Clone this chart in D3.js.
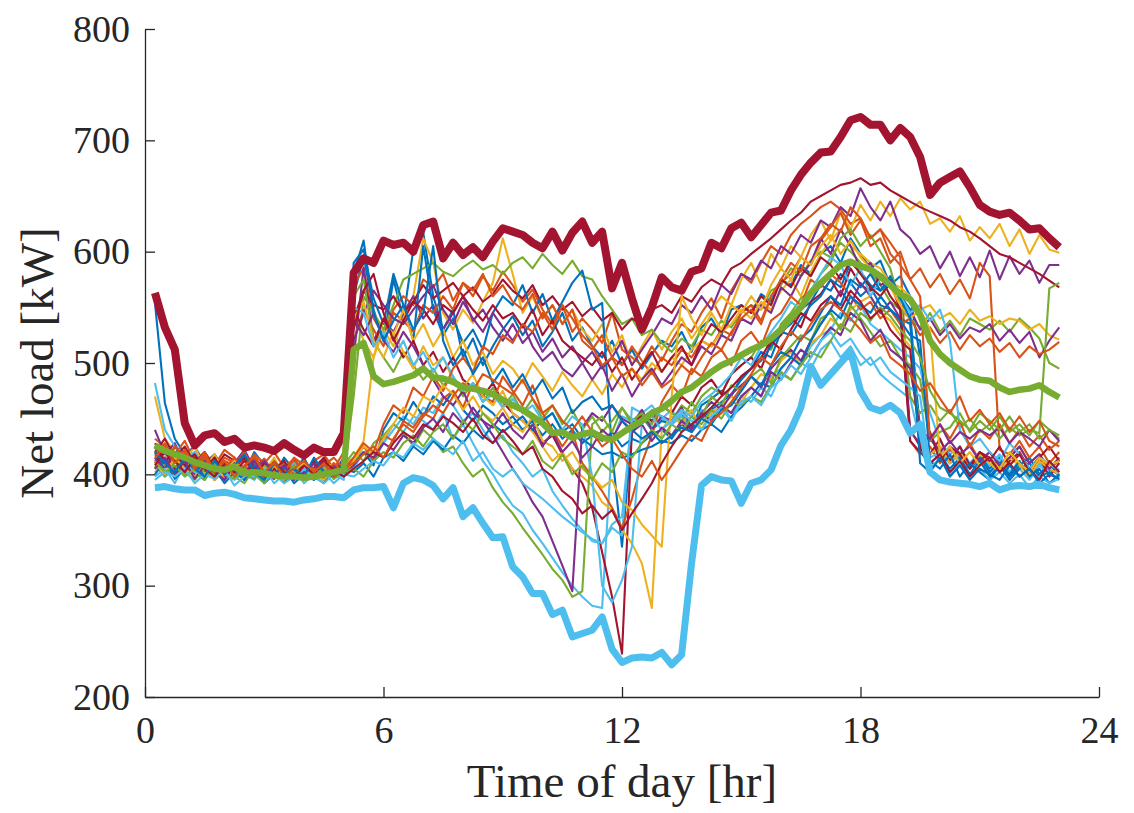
<!DOCTYPE html>
<html>
<head>
<meta charset="utf-8">
<script src="https://cdn.jsdelivr.net/npm/d3@7"></script>
<style>
  html, body { margin: 0; padding: 0; background: #fff; }
  svg { display: block; }
  .tick text { font-family: "Liberation Serif", "Times New Roman", serif; }
</style>
</head>
<body>
<svg id="chart" width="1134" height="813"></svg>
<script>
// Net load profiles sampled every 15 minutes, 00:15 .. 23:00 (92 samples)
const hours = d3.range(1, 93).map(i => i / 4);

// Individual daily profiles [kW]
const days = [
  [554,464,432,418,425,410,418,405,414,402,420,408,399,415,404,411,396,408,401,415,
   560,596,548,520,575,540,602,617, 560,530,548,505,522,498,515,530, 542,525,538,515,528,545,520,532,
   515,505,520,498,512,495,508,520, 515,528,510,532,540,525,548,552, 545,562,555,575,570,588,580,598,
   605,590,612,598,585,592,570,578, 560,505,432,420,412,425,408,418, 405,415,402,410,398,412,404,400],
  [432,425,418,430,412,420,408,422,415,405,418,410,420,406,414,402,412,418,405,420,
   570,585,540,525,548,560,552,575, 568,580,556,572,560,578,565,582, 570,555,566,548,535,552,528,540,
   530,518,545,512,505,498,515,502, 520,535,528,545,558,540,565,580, 572,590,605,598,615,625,632,640,
   645,638,625,630,612,620,608,595, 430,418,425,410,422,415,428,412, 420,408,415,425,410,418,405,412],
  [470,432,420,412,425,405,418,400,412,396,408,402,415,398,410,395,405,412,398,410,
   545,520,505,530,515,540,560,612, 590,545,530,548,536,555,572,612, 580,545,560,540,552,535,548,530,
   520,535,510,525,498,515,530,512, 528,540,522,535,548,560,552,575, 590,570,598,585,605,595,615,628,
   610,635,620,642,628,645,632,648, 638,645,625,630,618,632,610,622, 612,625,605,620,598,615,602,599],
  [440,418,428,408,420,402,415,398,410,422,405,414,400,412,395,408,402,415,398,412,
   505,586,520,538,528,545,560,540, 552,530,545,560,538,548,532,520, 535,518,528,510,522,505,515,500,
   510,495,505,520,498,512,525,540, 535,552,545,560,548,570,562,580, 575,592,585,605,598,615,608,628,
   622,640,632,657,640,628,645,620, 612,598,605,585,600,578,595,577, 601,575,596,580,592,572,588,588],
  [425,410,420,405,415,398,412,402,408,395,410,400,404,392,406,398,402,395,408,400,
   470,560,545,530,552,575,580,585, 590,582,578,586,592,584,588,580, 590,595,585,598,588,580,592,578,
   575,560,548,535,540,525,530,518, 510,522,515,530,525,538,532,545, 552,548,565,570,585,578,592,600,
   595,608,600,590,582,570,555,548, 540,532,545,528,538,525,540,535, 530,538,528,540,532,522,500,495],
  [482,440,425,415,420,405,412,398,408,400,395,410,402,396,405,392,400,408,396,402,
   410,425,418,430,445,438,452,448, 440,455,432,445,428,412,400,385, 372,365,350,338,325,312,300,290,
   282,280,430,452,448,455,442,450, 445,452,440,458,450,462,455,470, 465,478,470,490,485,500,495,512,
   520,505,515,498,505,490,482,475, 468,430,415,420,410,418,405,412, 400,410,398,405,395,408,400,396],
  [420,432,415,425,410,420,405,418,412,400,415,405,410,398,412,402,406,415,400,410,
   540,565,552,548,560,545,555,570, 558,565,572,560,568,555,562,575, 565,558,570,552,560,548,555,542,
   550,538,545,530,540,535,548,552, 545,560,555,568,575,570,585,590, 598,605,612,620,628,635,645,650,
   655,660,662,666,660,662,655,650, 645,640,636,632,628,622,618,612, 605,598,595,590,585,580,574,568],
  [418,408,425,412,402,415,398,410,405,418,400,412,396,408,402,415,398,410,405,412,
   590,602,558,535,580,552,520,605, 548,525,540,518,530,512,545,560, 552,570,545,562,538,555,572,583,
   548,554,420,335,437,452,440,448, 445,455,442,462,468,475,470,488, 495,510,505,528,535,548,555,570,
   565,580,572,560,568,552,548,540, 535,440,418,425,410,420,405,415, 402,412,398,408,415,400,410,398],
  [410,422,405,418,400,412,398,405,415,402,410,396,408,400,412,405,398,410,402,408,
   520,548,530,515,545,538,528,552, 545,560,548,572,565,580,560,570, 555,548,562,540,552,535,548,520,
   512,525,505,498,515,502,490,505, 498,512,505,520,515,530,525,545, 552,538,560,572,580,595,588,610,
   622,635,615,628,605,612,590,600, 575,585,568,580,562,575,558,590, 578,422,418,430,415,425,410,420],
  [405,415,400,412,398,408,395,405,410,398,406,394,402,410,398,404,396,405,400,408,
   415,430,505,540,525,548,520,535, 515,530,505,520,498,510,490,502, 495,482,500,488,475,492,480,470,
   485,472,490,478,495,485,500,492, 505,498,512,520,515,528,535,548, 540,555,548,565,575,560,582,598,
   610,620,605,598,590,585,572,568, 560,548,552,540,545,535,548,538, 542,535,540,538,530,535,525,521],
  [428,412,420,405,415,400,410,398,405,395,412,400,408,394,402,398,410,396,404,412,
   520,545,565,552,540,535,548,560, 570,548,535,555,540,528,545,532, 520,535,515,502,510,495,488,500,
   485,498,475,490,470,485,495,480, 492,505,498,515,508,525,520,540, 535,552,545,568,560,578,590,612,
   598,620,605,585,590,570,575,560, 548,530,540,525,535,522,532,528, 535,520,530,518,528,505,520,532],
  [415,405,418,400,410,398,412,395,405,400,396,408,402,395,405,400,398,410,396,405,
   560,575,520,505,492,510,498,485, 495,480,488,470,482,465,478,460, 472,455,468,450,462,445,458,440,
   452,438,448,460,445,455,440,452, 448,462,455,470,478,472,490,498, 505,520,512,535,545,558,565,580,
   590,612,620,605,615,600,585,552, 470,455,462,448,458,442,450,438, 445,432,442,435,440,437,567,572],
  [410,398,405,415,400,412,396,405,398,408,402,395,406,398,410,400,395,405,398,402,
   405,420,412,428,440,452,445,460, 455,470,462,448,455,440,428,435, 420,410,398,405,385,372,360,350,
   340,338,352,345,460,455,462,450, 458,446,452,440,455,462,450,470, 478,470,488,495,505,498,515,525,
   530,545,538,552,535,528,520,512, 505,495,455,430,418,425,410,420, 408,418,402,412,398,410,400,405],
  [412,420,405,415,400,410,395,408,402,415,398,410,405,396,408,400,412,398,405,410,
   548,530,515,540,522,505,520,498, 510,492,505,485,478,470,482,465, 455,448,440,428,435,418,405,392,
   370,330,290,239,440,455,448,462, 455,470,462,478,485,472,490,498, 505,495,518,525,540,532,555,562,
   575,560,585,570,565,578,560,548, 440,425,418,432,412,425,408,420, 415,402,412,420,405,415,398,410],
  [405,415,398,410,402,395,408,400,412,398,405,392,400,410,396,405,398,392,405,400,
   412,420,408,440,455,448,465,452, 470,462,475,458,448,462,455,445, 452,440,448,435,445,432,440,428,
   435,430,438,425,432,428,436,440, 432,445,438,450,458,465,472,485, 495,502,515,528,525,540,552,560,
   575,568,590,582,570,565,578,560, 548,420,410,418,405,415,400,412, 398,408,395,405,410,398,402,395],
  [420,410,425,415,405,418,400,412,408,420,402,414,398,410,405,412,400,408,415,405,
   415,425,412,435,430,448,442,455, 450,468,475,460,482,470,465,488, 475,462,480,455,440,425,438,410,
   398,385,370,352,378,410,435,465, 480,470,495,488,505,512,498,520, 528,515,538,545,560,552,575,568,
   580,572,560,548,555,540,548,535, 540,525,532,518,528,512,525,515, 522,510,518,505,515,508,512,519],
  [402,410,398,405,415,400,408,396,404,412,398,406,400,395,408,402,396,404,410,398,
   540,555,520,505,528,510,495,515, 498,505,485,478,490,470,462,475, 455,448,438,425,412,420,405,398,
   390,375,368,350,338,320,280,440, 452,445,458,440,455,462,470,465, 478,490,485,502,510,498,518,525,
   540,532,548,555,560,545,538,525, 515,432,418,425,410,420,405,418, 410,402,415,408,398,412,405,400],
  [415,405,420,408,398,412,402,395,408,400,414,402,396,405,398,410,402,395,408,398,
   538,525,545,520,510,528,515,498, 485,470,462,475,455,448,435,420, 405,392,375,362,340,318,295,442,
   455,448,462,450,445,458,440,452, 448,460,442,455,465,458,472,480, 488,478,495,505,512,502,520,535,
   548,565,552,572,560,545,555,540, 438,428,435,420,430,418,425,412, 420,408,415,425,410,418,405,415],
  [408,398,412,402,395,405,400,410,398,392,405,400,410,398,402,395,405,398,402,408,
   420,412,428,435,445,438,425,440, 432,420,425,410,398,405,388,375, 365,352,340,328,315,305,290,295,
   445,452,438,460,448,455,445,462, 455,448,465,452,470,462,480,475, 488,495,482,505,515,525,520,540,
   545,530,552,540,528,515,520,505, 498,485,430,438,442,455,438,448, 440,452,438,445,435,448,440,432],
  [398,405,392,410,402,396,408,400,395,402,398,405,392,400,396,404,398,392,400,395,
   550,545,515,528,505,520,498,510, 492,505,488,475,482,465,472,460, 468,455,462,448,455,440,452,445,
   398,300,285,305,335,446,452,440, 448,458,452,465,472,480,490,505, 498,515,528,540,555,548,565,580,
   595,588,570,585,560,575,568,560, 545,552,538,548,520,440,425,432, 420,412,428,418,405,415,410,402],
  [425,412,420,408,418,405,415,400,410,402,408,396,405,412,398,408,402,410,398,405,
   530,565,580,545,520,538,555,548, 535,552,545,560,548,538,552,540, 545,532,548,525,538,520,512,505,
   498,510,492,505,485,498,510,492, 505,515,498,520,535,528,540,552, 545,560,552,575,568,585,578,595,
   588,575,592,580,568,560,572,548, 430,420,438,412,425,418,405,420, 412,425,408,418,402,415,425,412],
  [400,412,396,405,410,398,405,392,402,395,408,400,398,405,392,400,395,402,398,405,
   402,410,398,415,420,412,425,418, 430,422,435,428,440,432,445,438, 445,452,440,448,455,438,445,432,
   425,418,420,415,418,422,425,430, 428,435,430,440,445,438,452,460, 470,482,478,495,505,498,520,535,
   548,540,560,552,545,560,548,538, 525,520,412,405,418,398,410,402, 395,408,400,412,398,405,392,400],
  [418,428,412,422,408,420,402,415,410,405,418,400,412,402,415,408,405,398,410,402,
   415,428,420,445,462,455,478,470, 488,475,495,505,492,515,508,525, 518,535,528,545,530,552,540,525,
   515,498,505,488,495,480,492,478, 485,498,490,505,518,512,528,540, 548,535,560,575,590,582,605,612,
   625,618,640,630,612,620,598,588, 575,560,430,445,432,448,425,440, 432,445,428,440,425,435,422,430],
  [410,400,415,405,398,408,395,402,412,400,405,396,408,398,404,410,400,395,405,398,
   412,425,418,432,445,460,452,470, 465,480,472,458,470,455,448,460, 445,438,452,430,425,412,420,405,
   398,388,395,375,368,355,345,335, 470,560,540,525,545,530,552,545, 560,548,570,585,575,595,588,605,
   615,598,610,595,585,575,568,552, 540,548,530,415,425,410,420,408, 415,405,420,410,402,415,408,412],
  [405,415,400,412,396,408,402,395,410,398,405,412,400,408,395,402,410,398,405,400,
   408,420,415,428,422,435,428,442, 450,438,455,445,460,448,442,455, 440,432,445,425,438,420,430,415,
   425,440,432,448,438,445,430,442, 435,448,440,455,448,462,455,470, 478,470,492,485,500,512,505,520,
   532,525,545,538,520,530,512,505, 495,440,432,445,428,438,432,440, 435,442,428,438,432,425,440,430],
  [412,402,408,398,405,395,410,400,396,405,400,392,402,398,408,395,400,405,396,402,
   405,398,412,420,415,428,435,425, 438,445,432,448,440,455,445,432, 425,418,430,412,405,418,400,408,
   395,410,402,420,415,428,440,432, 445,438,452,445,458,450,465,462, 470,465,480,492,485,498,510,505,
   520,535,528,545,538,550,542,530, 520,505,475,460,455,448,440,455, 448,440,452,438,445,432,440,435],
  [395,402,398,405,392,400,396,404,390,398,402,395,400,392,398,405,396,402,392,400,
   398,405,412,408,420,415,428,422, 432,425,418,430,412,420,405,398, 405,392,385,378,370,362,355,348,
   342,338,355,362,450,445,458,452, 445,455,448,440,452,460,448,465, 470,462,478,485,498,490,505,520,
   528,515,522,508,498,505,492,485, 478,470,405,415,400,410,398,405, 395,402,392,400,388,398,392,396],
  [408,420,412,402,415,405,398,410,402,412,405,398,410,402,396,408,400,412,404,398,
   405,412,420,415,428,438,432,445, 440,452,446,438,450,435,428,440, 430,418,425,405,398,385,378,365,
   372,360,368,350,365,378,392,410, 425,438,445,452,460,470,478,488, 495,505,520,512,530,545,538,552,
   560,548,565,555,540,548,530,520, 512,425,410,418,402,412,398,408, 415,402,410,398,405,395,412,402],
  [420,410,402,415,405,398,412,400,408,418,402,395,410,400,405,398,415,402,398,410,
   580,610,545,520,538,552,530,545, 605,520,498,512,490,505,482,495, 478,490,472,485,468,478,455,465,
   470,458,462,448,440,432,438,428, 435,442,438,450,445,458,462,475, 488,480,498,510,505,522,530,545,
   560,552,575,568,580,565,572,558, 540,410,402,415,398,408,395,405, 400,395,408,398,405,392,400,396],
  [415,425,410,420,405,415,402,412,398,408,415,402,410,398,405,412,402,410,398,405,
   410,418,425,415,432,445,438,452, 462,455,470,482,475,490,485,478, 472,485,468,455,462,448,440,452,
   438,425,432,418,405,398,412,395, 408,422,435,430,448,455,465,478, 490,505,498,515,528,520,535,548,
   555,548,540,530,518,525,505,498, 490,475,482,468,455,470,448,458, 445,455,440,452,438,448,430,425]
];

// Highest-load day, lowest-load day and the average profile [kW]
const peakDay = [
  563,532,512,446, 426,435,437,429, 432,424,426,424, 421,428,422,417, 424,420,420,437,
  581,594,590,610, 606,608,600,624, 627,594,608,597, 604,595,609,621, 618,615,608,603,
  618,601,617,627, 608,618,567,590, 558,530,550,577, 568,565,582,585, 608,603,621,626,
  613,624,635,637, 655,669,680,689, 690,703,718,721, 714,714,700,711, 703,685,651,662,
  667,672,658,642, 636,633,635,628, 620,621,612,604
];
const lowDay = [
  388,389,387,386, 386,381,383,384, 382,379,378,377, 376,376,375,377, 378,380,380,379,
  386,388,388,389, 370,392,397,395, 390,378,388,362, 370,356,343,344, 317,308,293,293,
  274,278,254,257, 260,272,243,231, 235,236,235,240, 229,238,320,390, 398,395,394,374,
  392,395,404,426, 440,460,497,480, 490,500,510,475, 460,457,462,455, 437,445,402,395,
  393,392,391,389, 392,386,389,390, 389,391,388,386
];
const meanDay = [
  426,421,418,415, 411,408,405,404, 407,401,402,401, 399,398,398,397, 398,400,402,404,
  512,518,488,481, 483,486,489,495, 487,486,483,478, 477,475,472,467, 462,458,452,446,
  437,438,433,436, 438,433,431,437, 443,448,455,459, 466,474,478,485, 492,498,502,507,
  512,516,522,530, 540,550,563,572, 580,588,591,587, 584,578,570,562, 557,543,520,508,
  500,494,488,485, 484,478,474,476, 477,480,474,469
];

const xTicks = [0, 6, 12, 18, 24];
const yTicks = [200, 300, 400, 500, 600, 700, 800];
const palette = ["#0072BD", "#D95319", "#EDB120", "#7E2F8E", "#77AC30", "#4DBEEE", "#A2142F"];

const svg = d3.select("#chart");
const margin = { left: 145, right: 35, top: 29, bottom: 116 };
const W = 1134, H = 813;

const x = d3.scaleLinear().domain([0, 24]).range([margin.left, W - margin.right]);
const y = d3.scaleLinear().domain([200, 800]).range([H - margin.bottom, margin.top]);

const line = d3.line()
  .x((d, i) => x(hours[i]))
  .y(d => y(d));

const plot = svg.append("g");

// thin daily curves
plot.selectAll("path.day")
  .data(days)
  .join("path")
  .attr("class", "day")
  .attr("d", line)
  .attr("fill", "none")
  .attr("stroke", (d, i) => palette[i % palette.length])
  .attr("stroke-width", 2.1)
  .attr("stroke-linejoin", "round");

// highlighted profiles
const bold = [
  { values: peakDay, color: "#A2142F", width: 8 },
  { values: lowDay, color: "#4DBEEE", width: 7 },
  { values: meanDay, color: "#77AC30", width: 6.5 }
];
plot.selectAll("path.bold")
  .data(bold)
  .join("path")
  .attr("class", "bold")
  .attr("d", d => line(d.values))
  .attr("fill", "none")
  .attr("stroke", d => d.color)
  .attr("stroke-width", d => d.width)
  .attr("stroke-linejoin", "round");

// axes
const axisColor = "#262626";
const xAxis = svg.append("g")
  .attr("transform", `translate(0,${y(200)})`)
  .call(d3.axisBottom(x).tickValues(xTicks).tickFormat(d3.format("d"))
    .tickSizeInner(-10).tickSizeOuter(0).tickPadding(19));
const yAxis = svg.append("g")
  .attr("transform", `translate(${x(0)},0)`)
  .call(d3.axisLeft(y).tickValues(yTicks).tickFormat(d3.format("d"))
    .tickSizeInner(-10).tickSizeOuter(0).tickPadding(15));

[xAxis, yAxis].forEach(g => {
  g.select(".domain").attr("stroke", axisColor).attr("stroke-width", 1.3);
  g.selectAll(".tick line").attr("stroke", axisColor).attr("stroke-width", 1.3);
  g.selectAll(".tick text").attr("fill", axisColor).attr("font-size", 38);
});

svg.append("text")
  .attr("x", x(12))
  .attr("y", 797)
  .attr("text-anchor", "middle")
  .attr("font-family", "Liberation Serif, serif")
  .attr("font-size", 47)
  .attr("fill", axisColor)
  .text("Time of day [hr]");

svg.append("text")
  .attr("transform", `translate(53,${y(500)}) rotate(-90)`)
  .attr("text-anchor", "middle")
  .attr("font-family", "Liberation Serif, serif")
  .attr("font-size", 47)
  .attr("fill", axisColor)
  .text("Net load [kW]");
</script>
</body>
</html>
